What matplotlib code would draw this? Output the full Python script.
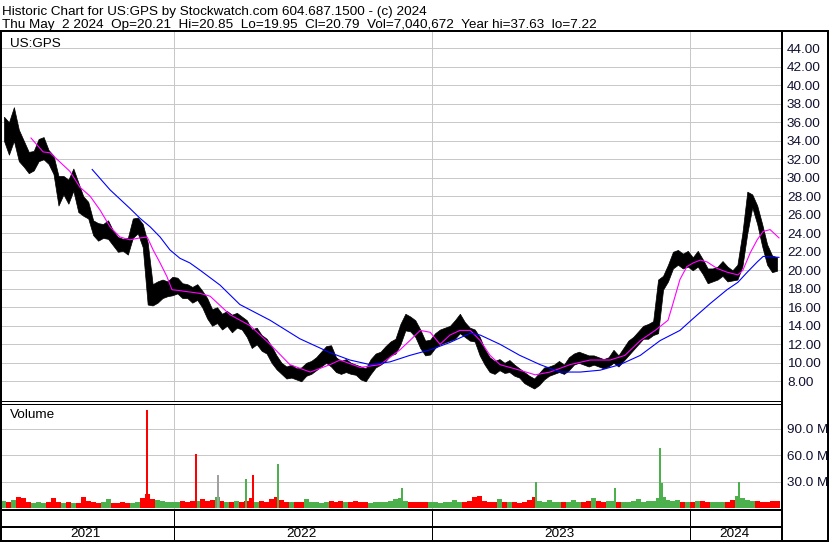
import matplotlib
matplotlib.use('Agg')
import matplotlib.pyplot as plt
import numpy as np
import pandas as pd
from matplotlib.lines import Line2D

plt.rcParams['font.family'] = ['Liberation Sans', 'DejaVu Sans']

W, H = 830, 543

title1 = 'Historic Chart for US:GPS by Stockwatch.com 604.687.1500 - (c) 2024'
title2 = 'Thu May  2 2024  Op=20.21  Hi=20.85  Lo=19.95  Cl=20.79  Vol=7,040,672  Year hi=37.63  lo=7.22'
symbol = 'US:GPS'

start = pd.Timestamp('2021-05-03')
years = ['2021', '2022', '2023', '2024']

# weekly high / low, one entry per week from 2021-05-03
week_lo = [34.0, 32.5, 34.0, 31.8, 31.2, 30.5, 30.8, 31.8, 32.0, 31.5,
           30.4, 27.0, 28.2, 27.2, 28.6, 26.3, 25.9, 25.6, 23.8, 23.2,
           23.5, 23.4, 22.7, 22.0, 22.1, 21.7, 23.5, 24.0, 22.5, 16.3,
           16.2, 16.5, 17.0, 17.2, 17.3, 17.5, 17.0, 17.0, 16.5, 16.8,
           16.0, 14.8, 14.0, 14.3, 13.6, 14.0, 13.3, 13.8, 13.6, 12.8,
           11.6, 12.0, 11.3, 11.0, 10.0, 9.3, 8.8, 8.3, 8.4, 8.2,
           8.0, 8.6, 8.8, 9.2, 9.6, 10.0, 9.6, 9.0, 8.8, 9.0,
           8.8, 8.7, 8.2, 8.0, 8.8, 9.5, 9.8, 10.2, 10.8, 11.0,
           12.0, 13.5, 13.4, 12.8, 11.6, 10.8, 10.9, 11.6, 12.0, 12.2,
           12.4, 12.6, 13.2, 12.8, 12.4, 12.3, 10.8, 9.8, 9.0, 8.8,
           9.2, 8.9, 9.0, 8.6, 8.4, 7.8, 7.5, 7.22, 7.6, 8.2,
           8.6, 8.8, 9.0, 8.8, 9.2, 9.8, 10.0, 9.8, 9.6, 9.8,
           9.6, 9.4, 9.6, 10.0, 9.6, 10.2, 10.8, 11.4, 12.0, 12.6,
           12.6, 13.0, 13.2, 17.9, 18.8, 20.2, 20.6, 20.2, 20.4, 20.0,
           20.4, 19.6, 18.6, 18.8, 19.0, 19.4, 18.8, 18.9, 19.0, 20.4,
           24.0, 26.8, 25.0, 22.6, 20.6, 19.8, 19.95]
week_hi = [36.6, 36.0, 37.63, 35.2, 34.0, 32.8, 32.9, 34.2, 34.4, 33.0,
           32.4, 30.2, 30.2, 29.8, 31.0, 29.5, 28.0, 27.4, 25.4, 25.1,
           25.0, 25.4, 24.3, 23.6, 23.4, 23.5, 25.6, 25.7, 25.0, 23.0,
           18.5, 18.8, 19.0, 18.8, 19.3, 19.2, 18.6, 18.5, 18.2, 18.5,
           17.8, 17.0, 15.8, 16.0, 15.3, 15.6, 15.2, 15.4, 15.0, 14.6,
           13.6, 13.8, 13.0, 12.6, 11.8, 10.8, 10.0, 9.6, 9.8, 9.4,
           9.5, 10.0, 10.2, 10.6, 11.2, 11.8, 11.9, 10.6, 10.2, 10.4,
           10.0, 9.8, 9.6, 9.4, 10.4, 11.0, 11.2, 11.8, 12.3, 12.6,
           14.2, 15.3, 15.0, 14.6, 13.6, 12.4, 12.5, 13.2, 13.6, 13.8,
           14.0, 14.6, 15.3, 14.4, 13.8, 13.6, 12.8, 11.5, 10.6, 10.2,
           10.4, 10.0, 10.3, 9.8, 9.4, 9.0, 8.6, 8.3, 8.9, 9.5,
           9.6, 9.8, 10.2, 9.8, 10.6, 11.0, 11.2, 11.0, 10.8, 10.8,
           10.6, 10.4, 10.6, 11.4, 10.8, 11.6, 12.4, 12.8, 13.4, 14.0,
           14.2, 14.5, 19.0, 19.4, 20.6, 22.0, 22.2, 21.8, 22.1, 21.4,
           22.1, 21.2, 20.2, 20.2, 20.4, 21.0, 20.4, 20.0, 20.6, 24.0,
           28.5, 28.2, 27.0, 25.0, 22.8, 21.6, 21.4]

# typical daily volume per week, millions
week_vol = [8, 7, 9, 13, 11, 7, 6, 7, 6, 7,
            11, 7, 6, 7, 6, 6, 13, 8, 7, 6,
            7, 10, 6, 6, 7, 6, 6, 7, 11, 16,
            10, 9, 8, 7, 7, 7, 8, 7, 8, 8,
            10, 8, 9, 13, 8, 7, 7, 8, 7, 8,
            11, 7, 8, 7, 10, 13, 9, 7, 7, 7,
            7, 10, 7, 7, 6, 7, 8, 7, 8, 7,
            7, 8, 7, 7, 6, 7, 7, 7, 8, 10,
            12, 8, 7, 7, 7, 7, 7, 7, 6, 7,
            7, 9, 7, 7, 8, 13, 14, 8, 7, 7,
            10, 7, 7, 7, 6, 7, 9, 13, 8, 7,
            9, 7, 7, 7, 7, 9, 7, 7, 8, 11,
            8, 7, 8, 8, 7, 7, 7, 8, 10, 7,
            8, 8, 11, 13, 9, 8, 9, 7, 7, 7,
            8, 8, 7, 7, 7, 7, 7, 9, 14, 12,
            9, 8, 8, 7, 7, 8, 8]

# single-day volume spikes (week position, millions, colour)
spike_wk = [29.3, 39.2, 43.7, 49.3, 50.8, 55.7, 80.8, 107.9, 123.8, 132.9, 133.2, 148.8]
spike_vol = [111, 61.5, 37.8, 33, 37.8, 50, 23, 29.8, 23, 68.7, 29, 30]
spike_col = ['r', 'r', 'k', 'g', 'r', 'g', 'g', 'g', 'g', 'g', 'g', 'g']

# moving averages (week position, price)
ma_fast_wk = [5.95, 8.4, 9.8, 11.8, 13.8, 15.8, 17.9, 19.9, 21.9, 23.9,
              25.9, 27.95, 29.4, 30.6, 32.0, 33.4, 34.4, 36.0, 40.1, 42.1,
              46.1, 50.2, 54.2, 58.2, 62.3, 66.3, 68.3, 72.4, 76.4, 80.4,
              82.4, 84.5, 86.5, 88.5, 90.5, 92.5, 94.6, 96.6, 98.6, 100.6,
              102.6, 104.6, 107.7, 110.7, 114.7, 118.8, 122.8, 125.8, 128.9, 131.9,
              134.5, 135.5, 136.9, 138.3, 139.6, 141.0, 142.4, 144.4, 146.4, 148.6,
              149.6, 151.1, 152.5, 153.7, 155.1, 156.9]
ma_fast = [34.3, 32.8, 32.7, 31.7, 30.7, 29.0, 28.0, 26.5, 24.7, 23.6,
           23.3, 23.5, 23.6, 22.2, 20.8, 19.3, 17.9, 17.8, 17.5, 17.2,
           15.2, 14.0, 12.0, 9.8, 9.0, 9.8, 10.3, 9.5, 9.8, 11.4,
           12.4, 13.5, 13.3, 12.0, 13.0, 13.5, 13.5, 12.4, 10.8, 9.8,
           9.5, 9.2, 8.7, 9.0, 9.8, 10.3, 10.3, 10.8, 12.4, 13.5,
           14.6, 16.4, 19.0, 20.4, 20.8, 21.1, 20.9, 20.2, 19.8, 19.5,
           20.0, 21.9, 23.3, 24.2, 24.4, 23.5]
ma_slow_wk = [18.3, 21.9, 25.9, 28.0, 30.0, 32.0, 34.0, 36.0, 38.0, 40.1,
              44.1, 48.1, 54.2, 60.2, 66.3, 70.3, 74.4, 78.4, 82.4, 86.5,
              90.5, 94.6, 96.6, 100.6, 104.6, 108.7, 112.7, 116.8, 120.8, 124.8,
              128.9, 132.9, 136.9, 139.6, 143.0, 146.4, 148.6, 150.5, 152.5, 153.7,
              156.9]
ma_slow = [30.9, 28.7, 26.7, 25.6, 24.7, 23.6, 22.2, 21.3, 20.8, 20.0,
           18.4, 16.3, 14.6, 12.6, 11.1, 10.3, 9.8, 10.1, 10.8, 11.4,
           12.2, 13.2, 13.0, 12.0, 10.8, 9.8, 9.0, 9.0, 9.2, 9.8,
           10.8, 12.4, 13.5, 14.8, 16.4, 17.9, 18.7, 19.8, 20.9, 21.5,
           21.4]

price_ticks = np.arange(8, 45, 2)
vol_ticks = [30, 60, 90]

GRID = '#c8c8c8'
RED = '#ff0000'
GREEN = '#4cb04c'
GRAY = '#a0a0a0'
colmap = {'r': RED, 'g': GREEN, 'k': GRAY}
FS = 9.7


def fx(x):
    return x / W


def fy(y):
    return 1 - y / H


def px_lw(p):
    return p * 72 / 100


fig = plt.figure(figsize=(W / 100, H / 100), dpi=100)

ax = fig.add_axes([fx(1), fy(401), 780 / W, 370 / H])
vax = fig.add_axes([fx(1), fy(509), 780 / W, 105 / H])
dax = fig.add_axes([fx(1), fy(541), 780 / W, 32 / H])

xlim = (-0.1, 157.3)
bounds = [(pd.Timestamp(y + '-01-01') - start).days / 7 for y in years[1:]]

hi = np.array(week_hi)
lo = np.array(week_lo)
x = np.arange(len(hi)) + 0.5

# price panel: high-low ribbon
ax.fill_between(x, lo, hi, color='black', linewidth=0.5, edgecolor='black', zorder=3)
ax.plot(ma_fast_wk, ma_fast, color='#ff00ff', lw=0.8, zorder=4)
ax.plot(ma_slow_wk, ma_slow, color='#0000ff', lw=0.8, zorder=4)
ax.set_xlim(*xlim)
ax.set_ylim(5.87, 45.87)
ax.set_yticks(price_ticks)
ax.set_yticklabels(['%.2f' % v for v in price_ticks])
ax.grid(axis='y', color=GRID, lw=px_lw(1), zorder=0)
for b in bounds:
    ax.axvline(b, color=GRID, lw=px_lw(1), zorder=0)
ax.text(9 / 780, 1 - (46.7 - 31) / 370, symbol, transform=ax.transAxes,
        fontsize=FS, va='baseline', ha='left')

# volume panel
mid = (hi + lo) / 2
up = np.r_[True, np.diff(mid) >= 0]
vcol = [GREEN if u else RED for u in up]
vax.bar(x, week_vol, width=1.0, color=vcol, linewidth=0, zorder=3)
vax.bar(spike_wk, spike_vol, width=0.4, color=[colmap[c] for c in spike_col],
        linewidth=0, zorder=4)
vax.set_xlim(*xlim)
vax.set_ylim(-1, 118)
vax.set_yticks(vol_ticks)
vax.set_yticklabels(['%.1f M' % v for v in vol_ticks])
vax.grid(axis='y', color=GRID, lw=px_lw(1), zorder=0)
for b in bounds:
    vax.axvline(b, color=GRID, lw=px_lw(1), zorder=0)
vax.text(9 / 780, 1 - (418 - 404) / 105, 'Volume', transform=vax.transAxes,
         fontsize=FS, va='baseline', ha='left')

for a in (ax, vax):
    a.yaxis.tick_right()
    a.tick_params(axis='y', length=0, pad=4.3, labelsize=FS, labelcolor='#101030')
    a.tick_params(axis='x', bottom=False, labelbottom=False)
    for s in a.spines.values():
        s.set_visible(False)

# date row
dax.set_xlim(*xlim)
dax.set_ylim(0, 1)
dax.axis('off')
edges = [xlim[0]] + bounds + [xlim[1]]
for i, yr in enumerate(years):
    c = (edges[i] + edges[i + 1]) / 2 - 0.3
    dax.text(c, 0.22, yr, ha='center', va='center', fontsize=FS)
for b in bounds:
    dax.axvline(b, color='black', lw=px_lw(1))

# header
fig.text(fx(2), fy(15), title1, fontsize=FS, va='baseline', ha='left')
fig.text(fx(2), fy(27.7), title2, fontsize=FS, va='baseline', ha='left')

# frame lines (pixel positions)
frame = [
    ((0, 829), (30.5, 30.5), 2),
    ((1, 1), (30, 542), 2),
    ((827.5, 827.5), (30, 542), 2),
    ((0, 829), (541.2, 541.2), 2),
    ((781.5, 781.5), (30, 542), 2),
    ((0, 781), (401, 401), 1),
    ((0, 781), (403.5, 403.5), 1),
    ((0, 781), (509.5, 509.5), 2),
    ((0, 781), (526.5, 526.5), 2),
]
for xs, ys, w in frame:
    fig.add_artist(Line2D([fx(v) for v in xs], [fy(v) for v in ys],
                          color='black', lw=px_lw(w), solid_capstyle='butt'))

fig.savefig('out.png', dpi=100)
